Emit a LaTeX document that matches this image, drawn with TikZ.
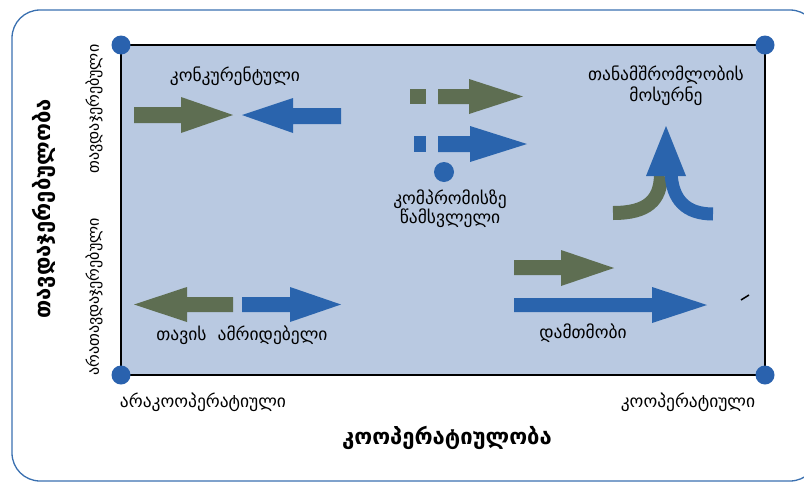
\documentclass[tikz,border=0pt]{standalone}
\usepackage{fontspec}
\setmainfont{DejaVu Sans}
\definecolor{frameblue}{HTML}{3A70B0}
\definecolor{plotfill}{HTML}{B9C9E1}
\definecolor{dotblue}{HTML}{2A62AE}
\definecolor{agreen}{HTML}{5E6E52}
\definecolor{ablue}{HTML}{2A64AD}
\tikzset{
  lbl/.style={font=\fontsize{17.5}{20}\selectfont, text=black, align=center, inner sep=0pt},
  vlbl/.style={font=\fontsize{16}{18}\selectfont, text=black, inner sep=0pt, rotate=90},
  blbl/.style={font=\bfseries\fontsize{22}{24}\selectfont, text=black, inner sep=0pt},
  cornerdot/.style={circle, fill=dotblue, minimum size=19pt, inner sep=0pt},
  garrow/.style={fill=agreen, draw=none},
  barrow/.style={fill=ablue, draw=none},
}
\begin{document}
\begin{tikzpicture}[x=1pt,y=-1pt]
\useasboundingbox (0,0) rectangle (804,485);
% outer frame
\draw[frameblue, line width=1.3pt, rounded corners=28pt] (12,10) rectangle (818,481);
% plot area
\draw[black, line width=2pt, fill=plotfill] (121,45) rectangle (765,375);
\node[cornerdot] (d1) at (121,45) {};
\node[cornerdot] (d2) at (765,45) {};
\node[cornerdot] (d3) at (121,375) {};
\node[cornerdot] (d4) at (765,375) {};

% competing
\fill[garrow] (134,107) -- (181,107) -- (181,97) -- (233,115) -- (181,133) -- (181,123) -- (134,123) -- cycle;
\fill[barrow] (341,108) -- (293,108) -- (293,98) -- (242,115) -- (293,133) -- (293,124) -- (341,124) -- cycle;
\node[lbl] (t1) at (235,76) {კონკურენტული};

% compromising
\fill[garrow] (410,89) rectangle (426,104);
\fill[garrow] (438,89) -- (469,89) -- (469,79) -- (523,96.5) -- (469,114) -- (469,104) -- (438,104) -- cycle;
\fill[barrow] (414,136) rectangle (426,152);
\fill[barrow] (438,136) -- (470,136) -- (470,126) -- (527,144) -- (470,162) -- (470,152) -- (438,152) -- cycle;
\fill[ablue] (444,172) circle (10);
\node[lbl, font=\fontsize{17.5}{19}\selectfont] (t2) at (450,209) {კომპრომისზე\\წამსვლელი};

% collaborating
\draw[agreen, line width=14pt] (613,213) .. controls (648,213) and (660,200) .. (661,176);
\draw[ablue, line width=13pt] (671,172) .. controls (672,200) and (686,214) .. (713,214);
\fill[barrow] (646,176) -- (686,176) -- (666,126) -- cycle;
\node[lbl, font=\fontsize{17.5}{21}\selectfont] (t3) at (666,86) {თანამშრომლობის\\მოსურნე};

% avoiding
\fill[garrow] (233,297) -- (187,297) -- (187,287) -- (134,304.5) -- (187,322) -- (187,312) -- (233,312) -- cycle;
\fill[barrow] (242,297) -- (290,297) -- (290,287) -- (341,304.5) -- (290,322) -- (290,312) -- (242,312) -- cycle;
\node[lbl] (t4) at (242,335) {თავის\ \ ამრიდებელი};

% accommodating
\fill[garrow] (514,260) -- (561,260) -- (561,250) -- (614,268) -- (561,286) -- (561,275) -- (514,275) -- cycle;
\fill[barrow] (514,298) -- (652,298) -- (652,287) -- (707,305) -- (652,323) -- (652,312) -- (514,312) -- cycle;
\draw[black, line width=1.5pt] (741,300) -- (749,295);
\node[lbl] (t5) at (583,333) {დამთმობი};

% axis labels
\node[lbl] (x1) at (203,402) {არაკოოპერატიული};
\node[lbl] (x2) at (688,402) {კოოპერატიული};
\node[blbl] (x3) at (447,438) {კოოპერატიულობა};
\node[blbl, rotate=90] (y3) at (44,209) {თავდაჯერებულობა};
\node[vlbl] (y1) at (94,109) {თავდაჯერებული};
\node[vlbl] (y2) at (94,297) {არათავდაჯერებული};
\end{tikzpicture}
\end{document}
